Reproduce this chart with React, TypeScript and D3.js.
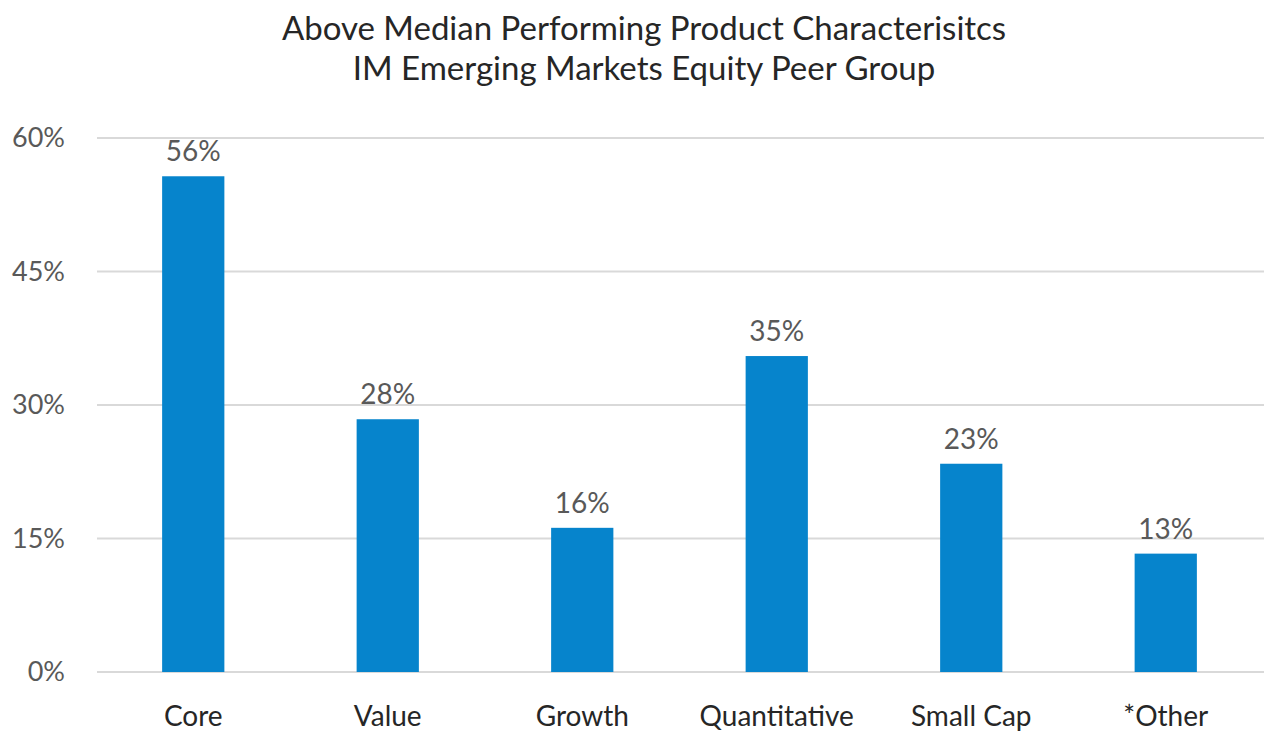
import { useEffect, useRef } from "react";
import * as d3 from "d3";

const categories = ["Core", "Value", "Growth", "Quantitative", "Small Cap", "*Other"];
const shares = [55.7, 28.4, 16.2, 35.5, 23.4, 13.3];
const shareLabels = ["56%", "28%", "16%", "35%", "23%", "13%"];
const yTicks = [0, 15, 30, 45, 60];
const titleLines = [
  "Above Median Performing Product Characterisitcs",
  "IM Emerging Markets Equity Peer Group",
];

const W = 1264;
const H = 733;
const FONT = "Lato, 'Open Sans', sans-serif";

function App() {
  const svgRef = useRef<SVGSVGElement | null>(null);

  useEffect(() => {
    const svg = d3.select(svgRef.current!);
    svg.selectAll("*").remove();

    const x = d3.scaleBand<string>()
      .domain(categories)
      .range([96, 1263])
      .paddingInner(0.68)
      .paddingOuter(0.34);
    const y = d3.scaleLinear().domain([0, 60]).range([672, 138]);

    svg.append("g")
      .selectAll("text")
      .data(titleLines)
      .join("text")
      .attr("x", 644)
      .attr("y", (_, i) => 40 + i * 40)
      .attr("text-anchor", "middle")
      .attr("font-family", FONT)
      .attr("font-size", 33)
      .attr("fill", "#262626")
      .text(d => d);

    // gridlines
    svg.append("g")
      .selectAll("line")
      .data(yTicks)
      .join("line")
      .attr("x1", 97)
      .attr("x2", W)
      .attr("y1", d => y(d))
      .attr("y2", d => y(d))
      .attr("stroke", "#d9d9d9")
      .attr("stroke-width", 2);

    svg.append("g")
      .selectAll("text")
      .data(yTicks)
      .join("text")
      .attr("x", 65)
      .attr("y", d => y(d))
      .attr("dy", "0.35em")
      .attr("text-anchor", "end")
      .attr("font-family", FONT)
      .attr("font-size", 27)
      .attr("fill", "#595959")
      .text(d => `${d}%`);

    svg.append("g")
      .selectAll("rect")
      .data(shares)
      .join("rect")
      .attr("x", (_, i) => x(categories[i])!)
      .attr("y", d => y(d))
      .attr("width", x.bandwidth())
      .attr("height", d => y(0) - y(d))
      .attr("fill", "#0684cc");

    svg.append("g")
      .selectAll("text")
      .data(shares)
      .join("text")
      .attr("x", (_, i) => x(categories[i])! + x.bandwidth() / 2)
      .attr("y", d => y(d) - 15)
      .attr("text-anchor", "middle")
      .attr("font-family", FONT)
      .attr("font-size", 28)
      .attr("fill", "#595959")
      .text((_, i) => shareLabels[i]);

    svg.append("g")
      .selectAll("text")
      .data(categories)
      .join("text")
      .attr("x", d => x(d)! + x.bandwidth() / 2)
      .attr("y", 726)
      .attr("text-anchor", "middle")
      .attr("font-family", FONT)
      .attr("font-size", 28)
      .attr("fill", "#262626")
      .text(d => d);
  }, []);

  return (
    <svg
      ref={svgRef}
      width={W}
      height={H}
      style={{ position: "absolute", left: 0, top: 0, background: "#fff" }}
    />
  );
}

export default App;
